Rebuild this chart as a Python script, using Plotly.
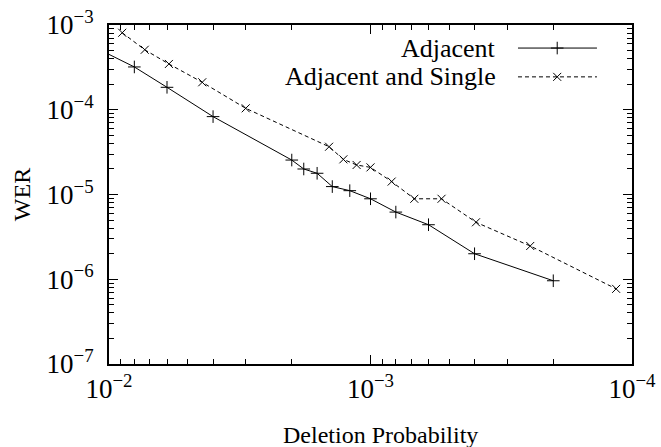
import plotly.graph_objects as go

# Data
adj_x = [1e-2, 8e-3, 6e-3, 4e-3, 2e-3, 1.8e-3, 1.6e-3, 1.4e-3, 1.2e-3, 1e-3, 8e-4, 6e-4, 4e-4, 2e-4]
adj_y = [4.5e-4, 3.2e-4, 1.84e-4, 8.3e-5, 2.55e-5, 2.0e-5, 1.78e-5, 1.24e-5, 1.11e-5, 8.9e-6, 6.2e-6, 4.4e-6, 2.0e-6, 9.6e-7]

adjs_x = [8.9e-3, 7.3e-3, 5.9e-3, 4.4e-3, 3e-3, 1.44e-3, 1.27e-3, 1.13e-3, 1e-3, 8.3e-4, 6.8e-4, 5.35e-4, 3.95e-4, 2.45e-4, 1.15e-4]
adjs_y = [8.1e-4, 5.1e-4, 3.47e-4, 2.11e-4, 1.04e-4, 3.66e-5, 2.6e-5, 2.23e-5, 2.09e-5, 1.42e-5, 8.9e-6, 8.9e-6, 4.7e-6, 2.47e-6, 7.7e-7]

series_names = ["Adjacent", "Adjacent and Single"]
x_tickvals = [1e-2, 1e-3, 1e-4]
x_ticktext = ["10<sup>−2</sup>", "10<sup>−3</sup>", "10<sup>−4</sup>"]
y_tickvals = [1e-7, 1e-6, 1e-5, 1e-4, 1e-3]
y_ticktext = ["10<sup>−7</sup>", "10<sup>−6</sup>", "10<sup>−5</sup>", "10<sup>−4</sup>", "10<sup>−3</sup>"]

FONT = "Liberation Serif"
PLUS_SIZE = 9
X_SIZE = 8

fig = go.Figure()
fig.add_trace(go.Scatter(
    x=adj_x, y=adj_y, mode="lines+markers", name=series_names[0],
    line=dict(color="black", width=1),
    marker=dict(symbol="cross-thin", size=PLUS_SIZE, line=dict(color="black", width=1)),
    cliponaxis=False, showlegend=False))
fig.add_trace(go.Scatter(
    x=adjs_x, y=adjs_y, mode="lines+markers", name=series_names[1],
    line=dict(color="black", width=1, dash="4px,3px"),
    marker=dict(symbol="x-thin", size=X_SIZE, line=dict(color="black", width=1)),
    cliponaxis=False, showlegend=False))

# Legend samples drawn on an overlay axis (symbol to the right of the text)
leg_y = [0.932, 0.847]
fig.add_trace(go.Scatter(x=[0.782, 0.933], y=[leg_y[0]] * 2, mode="lines", xaxis="x2", yaxis="y2",
                         line=dict(color="black", width=1), showlegend=False, hoverinfo="skip"))
fig.add_trace(go.Scatter(x=[0.857], y=[leg_y[0]], mode="markers", xaxis="x2", yaxis="y2",
                         marker=dict(symbol="cross-thin", size=PLUS_SIZE, line=dict(color="black", width=1)),
                         showlegend=False, hoverinfo="skip"))
fig.add_trace(go.Scatter(x=[0.782, 0.933], y=[leg_y[1]] * 2, mode="lines", xaxis="x2", yaxis="y2",
                         line=dict(color="black", width=1, dash="4px,3px"), showlegend=False, hoverinfo="skip"))
fig.add_trace(go.Scatter(x=[0.857], y=[leg_y[1]], mode="markers", xaxis="x2", yaxis="y2",
                         marker=dict(symbol="x-thin", size=X_SIZE, line=dict(color="black", width=1)),
                         showlegend=False, hoverinfo="skip"))

for name, yy in zip(series_names, leg_y):
    fig.add_annotation(x=0.744, y=yy, xref="paper", yref="paper", text=name, showarrow=False,
                       xanchor="right", yanchor="middle", font=dict(family=FONT, size=26, color="black"))

axis_common = dict(
    type="log", showgrid=False, zeroline=False, showline=True, linecolor="black", linewidth=2,
    mirror="ticks", ticks="inside", ticklen=9, tickwidth=1, tickcolor="black", automargin=False,
    minor=dict(ticks="inside", ticklen=5, tickwidth=1, tickcolor="black", showgrid=False, dtick="D1"),
    tickfont=dict(family=FONT, size=27, color="black"),
)

fig.update_layout(
    width=661, height=447,
    margin=dict(l=109, r=29, t=25, b=83),
    paper_bgcolor="white", plot_bgcolor="white",
    font=dict(family=FONT, color="black"),
    xaxis=dict(range=[-2, -4], tickvals=x_tickvals, ticktext=x_ticktext, **axis_common),
    yaxis=dict(range=[-7, -3], tickvals=y_tickvals, ticktext=y_ticktext, ticklabelstandoff=8, **axis_common),
    xaxis2=dict(overlaying="x", range=[0, 1], visible=False, fixedrange=True),
    yaxis2=dict(overlaying="y", range=[0, 1], visible=False, fixedrange=True),
)

fig.add_annotation(x=0.52, y=-0.21, xref="paper", yref="paper", text="Deletion Probability",
                   showarrow=False, xanchor="center", yanchor="middle",
                   font=dict(family=FONT, size=24, color="black"))
fig.add_annotation(x=-0.167, y=0.5, xref="paper", yref="paper", text="WER", textangle=-90,
                   showarrow=False, xanchor="center", yanchor="middle",
                   font=dict(family=FONT, size=24, color="black"))

fig.write_html("out.html", config={"displayModeBar": False},
               post_script="document.body.style.margin='0px';")
